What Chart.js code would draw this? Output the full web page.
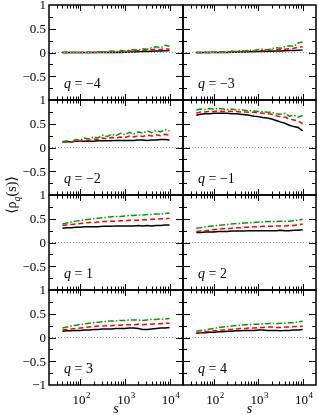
<!DOCTYPE html>
<html>
<head>
<meta charset="utf-8">
<script src="https://cdn.jsdelivr.net/npm/chart.js@4/dist/chart.umd.min.js"></script>
<style>
  html, body { margin: 0; padding: 0; background: #fff; }
  #wrap { position: relative; width: 318px; height: 415px; }
  #wrap canvas { position: absolute; left: 0; top: 0; }
</style>
</head>
<body>
<div id="wrap"></div>
<script>
// s values (log spaced sample sizes)
const S = [40, 50, 63, 80, 100, 126, 158, 200, 251, 316, 398, 501, 631, 794, 1000, 1259, 1585, 1995, 2512, 3162, 3981, 5012, 6310, 7943, 10000];

const Q_LABELS = ['\u22124', '\u22123', '\u22122', '\u22121', '1', '2', '3', '4'];
const X_TICK_VALUES = [100, 1000, 10000];
const X_TICK_EXPONENTS = ['2', '3', '4'];
const Y_TICK_VALUES = [1, 0.5, 0, -0.5];
const Y_TICK_LABELS = ['1', '0.5', '0', '\u22120.5'];

// q = -4
const solidQm4 = [0, 0, 0, 0, 0, 0, 0, 0, 0, 0, 0, 0, 0, 0, 0.005, 0.01, 0.01, 0.015, 0.02, 0.02, 0.025, 0.03, 0.03, 0.035, 0.04];
const dashQm4 = [0, 0, 0, 0, 0, 0, 0, 0, 0.005, 0.01, 0.01, 0.015, 0.02, 0.02, 0.025, 0.03, 0.035, 0.04, 0.05, 0.045, 0.06, 0.07, 0.06, 0.08, 0.07];
const dotdashQm4 = [0, 0, 0, 0, 0, 0, 0.005, 0.01, 0.01, 0.015, 0.02, 0.03, 0.02, 0.04, 0.03, 0.05, 0.06, 0.05, 0.08, 0.07, 0.1, 0.12, 0.1, 0.15, 0.13];
// q = -3
const solidQm3 = [0, 0, 0, 0, 0, 0, 0, 0, 0.005, 0.005, 0.01, 0.01, 0.015, 0.015, 0.02, 0.02, 0.025, 0.025, 0.03, 0.03, 0.035, 0.04, 0.04, 0.045, 0.05];
const dashQm3 = [0, 0, 0, 0, 0.005, 0, 0.01, 0.01, 0.015, 0.02, 0.02, 0.025, 0.03, 0.03, 0.04, 0.035, 0.05, 0.05, 0.06, 0.06, 0.07, 0.08, 0.09, 0.11, 0.12];
const dotdashQm3 = [0, -0.005, 0.01, 0, 0.01, 0.02, 0.01, 0.02, 0.03, 0.02, 0.04, 0.03, 0.05, 0.04, 0.06, 0.07, 0.06, 0.08, 0.1, 0.09, 0.12, 0.14, 0.13, 0.2, 0.22];
// q = -2
const solidQm2 = [0.12, 0.12, 0.12, 0.13, 0.13, 0.13, 0.13, 0.13, 0.14, 0.14, 0.14, 0.14, 0.15, 0.15, 0.15, 0.15, 0.15, 0.16, 0.16, 0.15, 0.16, 0.16, 0.17, 0.17, 0.16];
const dashQm2 = [0.11, 0.12, 0.11, 0.14, 0.13, 0.16, 0.15, 0.18, 0.17, 0.2, 0.18, 0.21, 0.2, 0.22, 0.21, 0.24, 0.22, 0.25, 0.23, 0.26, 0.24, 0.27, 0.25, 0.28, 0.26];
const dotdashQm2 = [0.12, 0.14, 0.12, 0.17, 0.15, 0.2, 0.18, 0.22, 0.2, 0.26, 0.23, 0.28, 0.25, 0.3, 0.27, 0.32, 0.28, 0.33, 0.3, 0.35, 0.31, 0.36, 0.33, 0.38, 0.35];
// q = -1
const solidQm1 = [0.68, 0.7, 0.71, 0.71, 0.72, 0.72, 0.72, 0.72, 0.71, 0.71, 0.7, 0.69, 0.68, 0.66, 0.65, 0.63, 0.62, 0.6, 0.57, 0.54, 0.51, 0.47, 0.44, 0.42, 0.35];
const dashQm1 = [0.72, 0.75, 0.75, 0.76, 0.76, 0.77, 0.76, 0.77, 0.76, 0.76, 0.75, 0.75, 0.74, 0.74, 0.73, 0.72, 0.71, 0.7, 0.67, 0.65, 0.64, 0.6, 0.58, 0.56, 0.5];
const dotdashQm1 = [0.79, 0.81, 0.8, 0.82, 0.81, 0.82, 0.81, 0.8, 0.81, 0.79, 0.8, 0.78, 0.78, 0.77, 0.76, 0.76, 0.74, 0.74, 0.71, 0.7, 0.72, 0.66, 0.68, 0.64, 0.68];
// q = 1
const solidQ1 = [0.3, 0.31, 0.31, 0.32, 0.32, 0.33, 0.33, 0.33, 0.33, 0.34, 0.34, 0.34, 0.35, 0.35, 0.35, 0.35, 0.35, 0.36, 0.35, 0.36, 0.35, 0.36, 0.36, 0.37, 0.37];
const dashQ1 = [0.36, 0.37, 0.38, 0.39, 0.4, 0.41, 0.42, 0.42, 0.43, 0.44, 0.44, 0.45, 0.45, 0.46, 0.46, 0.47, 0.47, 0.47, 0.48, 0.48, 0.49, 0.49, 0.5, 0.5, 0.51];
const dotdashQ1 = [0.39, 0.41, 0.43, 0.45, 0.46, 0.48, 0.49, 0.5, 0.51, 0.52, 0.53, 0.54, 0.55, 0.55, 0.56, 0.57, 0.57, 0.58, 0.58, 0.59, 0.59, 0.6, 0.6, 0.61, 0.62];
// q = 2
const solidQ2 = [0.21, 0.21, 0.22, 0.22, 0.22, 0.23, 0.23, 0.23, 0.24, 0.24, 0.24, 0.24, 0.25, 0.25, 0.25, 0.25, 0.25, 0.25, 0.25, 0.26, 0.25, 0.25, 0.26, 0.26, 0.27];
const dashQ2 = [0.23, 0.24, 0.25, 0.26, 0.27, 0.28, 0.29, 0.29, 0.3, 0.31, 0.31, 0.32, 0.32, 0.33, 0.33, 0.34, 0.34, 0.34, 0.35, 0.35, 0.35, 0.36, 0.36, 0.37, 0.39];
const dotdashQ2 = [0.3, 0.31, 0.33, 0.34, 0.35, 0.36, 0.37, 0.38, 0.39, 0.4, 0.4, 0.41, 0.42, 0.42, 0.43, 0.43, 0.44, 0.44, 0.44, 0.45, 0.45, 0.45, 0.46, 0.47, 0.49];
// q = 3
const solidQ3 = [0.13, 0.14, 0.14, 0.15, 0.15, 0.16, 0.16, 0.17, 0.17, 0.18, 0.18, 0.18, 0.19, 0.19, 0.19, 0.2, 0.2, 0.19, 0.17, 0.17, 0.18, 0.19, 0.2, 0.2, 0.21];
const dashQ3 = [0.16, 0.17, 0.18, 0.19, 0.2, 0.21, 0.22, 0.23, 0.24, 0.24, 0.25, 0.25, 0.26, 0.26, 0.27, 0.27, 0.27, 0.28, 0.27, 0.28, 0.28, 0.29, 0.29, 0.3, 0.3];
const dotdashQ3 = [0.2, 0.22, 0.24, 0.26, 0.27, 0.29, 0.3, 0.31, 0.32, 0.33, 0.34, 0.35, 0.35, 0.36, 0.36, 0.37, 0.37, 0.37, 0.36, 0.37, 0.38, 0.38, 0.39, 0.39, 0.4];
// q = 4
const solidQ4 = [0.09, 0.1, 0.1, 0.11, 0.11, 0.12, 0.12, 0.13, 0.13, 0.14, 0.14, 0.15, 0.15, 0.15, 0.16, 0.16, 0.15, 0.15, 0.15, 0.14, 0.15, 0.15, 0.16, 0.16, 0.17];
const dashQ4 = [0.1, 0.11, 0.12, 0.13, 0.14, 0.15, 0.16, 0.17, 0.17, 0.18, 0.19, 0.19, 0.2, 0.2, 0.21, 0.21, 0.22, 0.22, 0.21, 0.21, 0.22, 0.22, 0.23, 0.23, 0.24];
const dotdashQ4 = [0.13, 0.15, 0.16, 0.18, 0.19, 0.21, 0.22, 0.23, 0.24, 0.25, 0.26, 0.27, 0.27, 0.28, 0.28, 0.29, 0.29, 0.3, 0.29, 0.3, 0.3, 0.31, 0.31, 0.33, 0.34];

const panels = [
  [solidQm4, dashQm4, dotdashQm4],
  [solidQm3, dashQm3, dotdashQm3],
  [solidQm2, dashQm2, dotdashQm2],
  [solidQm1, dashQm1, dotdashQm1],
  [solidQ1, dashQ1, dotdashQ1],
  [solidQ2, dashQ2, dotdashQ2],
  [solidQ3, dashQ3, dotdashQ3],
  [solidQ4, dashQ4, dotdashQ4],
];

const W = 318, H = 415;
const COL_X = [[49, 183], [183, 316]];
const ROW_Y = [[5, 100], [100, 195], [195, 290], [290, 385]];
const SERIF = '"Liberation Serif", "DejaVu Serif", serif';

const line = (ctx, x1, y1, x2, y2) => {
  ctx.beginPath(); ctx.moveTo(x1, y1); ctx.lineTo(x2, y2); ctx.stroke();
};

const panelDecor = {
  id: 'panelDecor',
  afterDatasetsDraw(chart, args, opts) {
    const { ctx, chartArea: a, scales: { x, y } } = chart;
    ctx.save();
    ctx.strokeStyle = '#000';
    ctx.lineWidth = 1;
    // x ticks, top and bottom, pointing in
    for (let d = 10; d <= 10000; d *= 10) {
      for (let m = 1; m < 10; m++) {
        const v = d * m;
        if (v <= 20 || v >= 20000) continue;
        const px = Math.round(x.getPixelForValue(v)) + 0.5;
        const len = m === 1 ? 6 : 3.5;
        line(ctx, px, a.bottom, px, a.bottom - len);
        line(ctx, px, a.top, px, a.top + len);
      }
    }
    // y ticks, left and right
    for (let v = -0.75; v <= 0.76; v += 0.25) {
      const py = Math.round(y.getPixelForValue(v)) + 0.5;
      const len = Math.abs(v * 2 - Math.round(v * 2)) < 1e-6 ? 7 : 4;
      line(ctx, a.left, py, a.left + len, py);
      line(ctx, a.right, py, a.right - len, py);
    }
    // frame
    ctx.lineWidth = 1.5;
    ctx.strokeRect(a.left, a.top, a.right - a.left, a.bottom - a.top);

    ctx.fillStyle = '#000';
    // q label
    const qx = a.left + 15, qy = a.bottom - 12;
    ctx.font = 'italic 14px ' + SERIF;
    ctx.textBaseline = 'alphabetic';
    ctx.textAlign = 'left';
    ctx.fillText('q', qx, qy);
    const qw = ctx.measureText('q').width;
    ctx.font = '14px ' + SERIF;
    ctx.fillText(' = ' + opts.q, qx + qw, qy);

    // y tick labels on left column
    if (opts.col === 0) {
      ctx.font = '13px ' + SERIF;
      ctx.textAlign = 'right';
      ctx.textBaseline = 'middle';
      Y_TICK_VALUES.forEach((v, i) => {
        ctx.fillText(Y_TICK_LABELS[i], a.left - 3, y.getPixelForValue(v) + 1);
      });
      if (opts.bottom) ctx.fillText('\u22121', a.left - 3, y.getPixelForValue(-1) + 1);
    }
    // x tick labels on bottom row
    if (opts.bottom) {
      ctx.textBaseline = 'alphabetic';
      X_TICK_VALUES.forEach((v, i) => {
        const px = x.getPixelForValue(v);
        ctx.font = '13px ' + SERIF;
        const w1 = ctx.measureText('10').width;
        ctx.font = '9px ' + SERIF;
        const w2 = ctx.measureText(X_TICK_EXPONENTS[i]).width;
        const x0 = px - (w1 + w2) / 2 + 1;
        ctx.textAlign = 'left';
        ctx.font = '13px ' + SERIF;
        ctx.fillText('10', x0, a.bottom + 19);
        ctx.font = '9px ' + SERIF;
        ctx.fillText(X_TICK_EXPONENTS[i], x0 + w1 + 0.5, a.bottom + 13);
      });
      ctx.font = 'italic 14px ' + SERIF;
      ctx.textAlign = 'center';
      ctx.fillText('s', (a.left + a.right) / 2, a.bottom + 28);
    }
    // y axis title
    if (opts.title) {
      ctx.translate(12, 195);
      ctx.rotate(-Math.PI / 2);
      ctx.textAlign = 'left';
      ctx.textBaseline = 'alphabetic';
      const parts = [['\u27E8\u03C1', '14px ', 0], ['q', 'italic 10px ', 4], ['(s)\u27E9', '14px ', 0]];
      let total = 0;
      parts.forEach(p => { ctx.font = p[1] + SERIF; total += ctx.measureText(p[0]).width; });
      let cx = -total / 2;
      parts.forEach(p => {
        ctx.font = p[1] + SERIF;
        ctx.fillText(p[0], cx, 4 + p[2]);
        cx += ctx.measureText(p[0]).width;
      });
    }
    ctx.restore();
  }
};

const wrap = document.getElementById('wrap');
panels.forEach((series, k) => {
  const col = k % 2, row = Math.floor(k / 2);
  const [left, right] = COL_X[col];
  const [top, bottom] = ROW_Y[row];
  const canvas = document.createElement('canvas');
  canvas.width = W; canvas.height = H;
  canvas.style.width = W + 'px'; canvas.style.height = H + 'px';
  wrap.appendChild(canvas);
  const pts = arr => S.map((s, i) => ({ x: s, y: arr[i] }));
  new Chart(canvas.getContext('2d'), {
    type: 'line',
    data: {
      datasets: [
        { data: [{ x: 20, y: 0 }, { x: 20000, y: 0 }], borderColor: '#9a9a9a', borderWidth: 1, borderDash: [1, 2] },
        { data: pts(series[2]), borderColor: '#0a960a', borderWidth: 1.5, borderDash: [6, 2, 1.5, 2] },
        { data: pts(series[1]), borderColor: '#ff0000', borderWidth: 1.5, borderDash: [5, 3] },
        { data: pts(series[0]), borderColor: '#000000', borderWidth: 1.5 },
      ]
    },
    options: {
      responsive: false,
      animation: false,
      events: [],
      layout: { padding: { left: left, right: W - right, top: top, bottom: H - bottom } },
      elements: { point: { radius: 0 }, line: { tension: 0 } },
      plugins: {
        legend: { display: false },
        tooltip: { enabled: false },
        panelDecor: { q: Q_LABELS[k], col: col, bottom: row === 3, title: k === 0 }
      },
      scales: {
        x: { type: 'logarithmic', min: 20, max: 20000, display: false },
        y: { type: 'linear', min: -1, max: 1, display: false }
      }
    },
    plugins: [panelDecor]
  });
});
</script>
</body>
</html>
